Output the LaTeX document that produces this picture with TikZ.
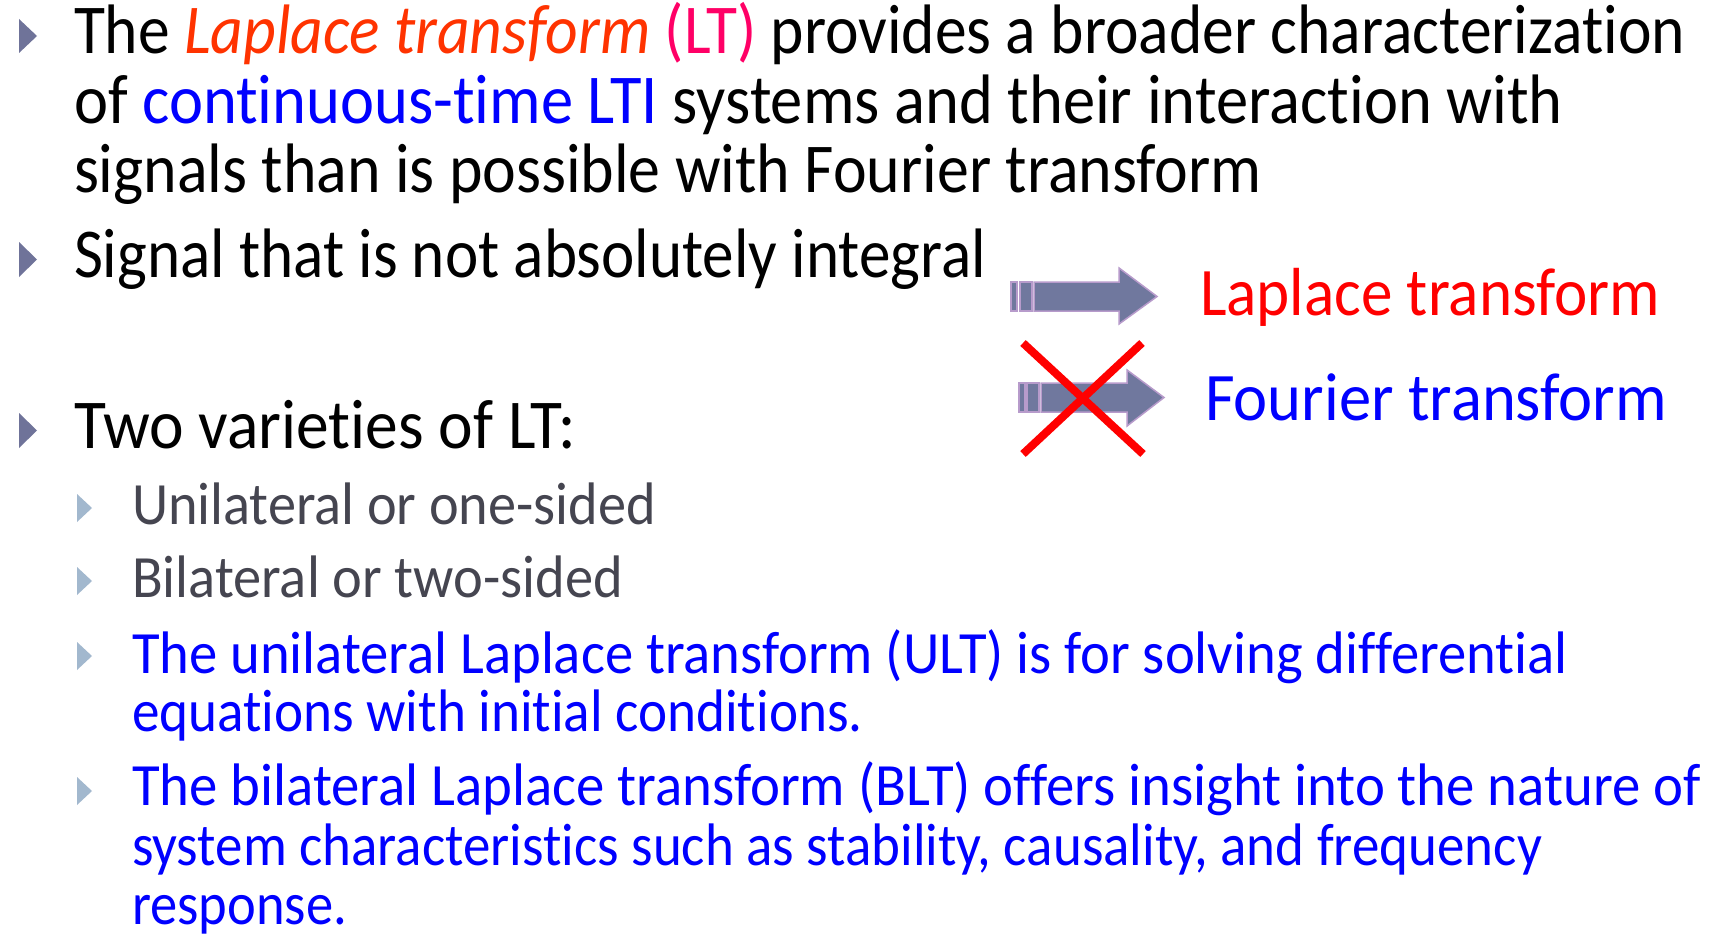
\documentclass[tikz,border=0pt]{standalone}
\usepackage{fontspec}
\usepackage{graphicx}
\setmainfont{Carlito}[RawFeature={-liga;-clig}]

\definecolor{bulletmain}{RGB}{111,115,153}
\definecolor{bulletsub}{RGB}{162,184,206}
\definecolor{subgray}{RGB}{69,69,80}
\definecolor{ltorange}{RGB}{255,51,0}
\definecolor{ltpink}{RGB}{255,0,102}
\definecolor{ltblue}{RGB}{0,0,255}
\definecolor{ltred}{RGB}{255,0,0}
\definecolor{arrowfill}{RGB}{112,120,158}
\definecolor{arrowedge}{RGB}{183,155,203}

% set a line of text at a given width, keeping its height
\newcommand{\fitw}[2]{\resizebox{#1pt}{\height}{#2}}

\tikzset{
  txt/.style={anchor=base west, inner sep=0pt, outer sep=0pt},
  lvlone/.style={txt, font=\fontsize{70}{70}\selectfont},
  lvltwo/.style={txt, font=\fontsize{60}{60}\selectfont},
  sidetxt/.style={txt, font=\fontsize{68}{68}\selectfont},
  mainbullet/.style={fill=bulletmain, draw=none},
  subbullet/.style={fill=bulletsub, draw=none},
  bigarrow/.style={fill=arrowfill, draw=arrowedge, line width=1.5pt, line join=miter},
  crossline/.style={draw=ltred, line width=8pt}
}

\begin{document}
\begin{tikzpicture}[x=1pt,y=-1pt]
\useasboundingbox[fill=white] (0,0) rectangle (1712,934);

% first-level bullets
\fill[mainbullet] (19,19) -- (37,36) -- (19,53) -- cycle;
\fill[mainbullet] (19,242) -- (37,259.5) -- (19,277) -- cycle;
\fill[mainbullet] (19,413) -- (37,430.5) -- (19,448) -- cycle;

% second-level bullets
\fill[subbullet] (77,494) -- (92,508) -- (77,522) -- cycle;
\fill[subbullet] (77,567) -- (92,581) -- (77,595) -- cycle;
\fill[subbullet] (77,642) -- (92,656) -- (77,670) -- cycle;
\fill[subbullet] (77,777) -- (92,791) -- (77,805) -- cycle;

% first-level text
\node[lvlone] (l1) at (74,54) {\fitw{1611}{The \textcolor{ltorange}{\itshape Laplace transform} \textcolor{ltpink}{(LT)} provides a broader characterization}};
\node[lvlone] (l2) at (74,123) {\fitw{1489}{of \textcolor{ltblue}{continuous-time LTI} systems and their interaction with}};
\node[lvlone] (l3) at (74,192) {\fitw{1188}{signals than is possible with Fourier transform}};
\node[lvlone] (l4) at (74,277) {\fitw{912}{Signal that is not absolutely integral}};
\node[lvlone] (l5) at (74,448) {\fitw{502}{Two varieties of LT:}};

% second-level text
\node[lvltwo, text=subgray] (s1) at (132,524) {\fitw{524}{Unilateral or one-sided}};
\node[lvltwo, text=subgray] (s2) at (132,597) {\fitw{491}{Bilateral or two-sided}};
\node[lvltwo, text=ltblue] (s3) at (132,673) {\fitw{1436}{The unilateral Laplace transform (ULT) is for solving differential}};
\node[lvltwo, text=ltblue] (s4) at (132,731) {\fitw{731}{equations with initial conditions.}};
\node[lvltwo, text=ltblue] (s5) at (132,805) {\fitw{1569}{The bilateral Laplace transform (BLT) offers insight into the nature of}};
\node[lvltwo, text=ltblue] (s6) at (132,865) {\fitw{1410}{system characteristics such as stability, causality, and frequency}};
\node[lvltwo, text=ltblue] (s7) at (132,924) {\fitw{215}{response.}};

% striped block arrows
\filldraw[bigarrow] (1011,282) rectangle (1017,311);
\filldraw[bigarrow] (1020,282) rectangle (1032,311);
\filldraw[bigarrow] (1034,282) -- (1119,282) -- (1119,268) -- (1157,296.5) -- (1119,324) -- (1119,311) -- (1034,311) -- cycle;

\filldraw[bigarrow] (1019,383) rectangle (1025,412);
\filldraw[bigarrow] (1027,383) rectangle (1039,412);
\filldraw[bigarrow] (1041,383) -- (1127,383) -- (1127,370) -- (1164,397.5) -- (1127,426) -- (1127,412) -- (1041,412) -- cycle;

% cross over the second arrow
\draw[crossline] (1023,343) -- (1143,454);
\draw[crossline] (1142,343) -- (1023,454);

% labels beside the arrows
\node[sidetxt, text=ltred] (lap) at (1200,315) {\fitw{460}{Laplace transform}};
\node[sidetxt, text=ltblue] (fou) at (1205,420) {\fitw{462}{Fourier transform}};
\end{tikzpicture}
\end{document}
